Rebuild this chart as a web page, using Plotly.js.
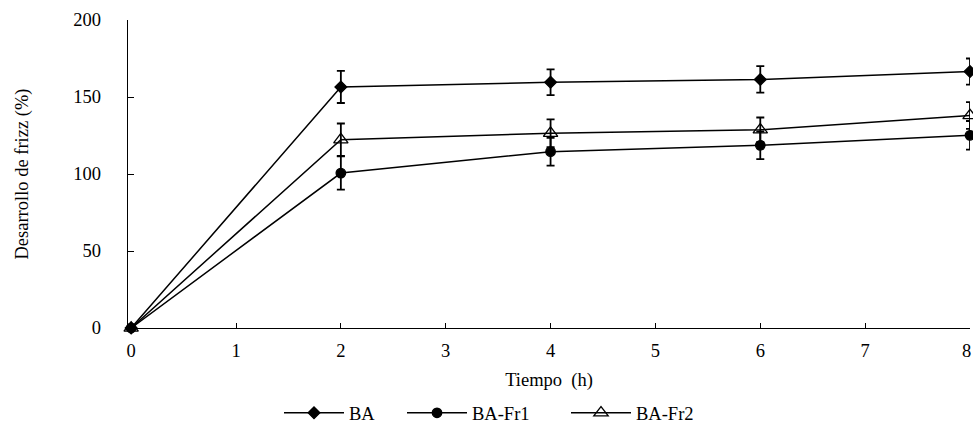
<!DOCTYPE html>
<html>
<head>
<meta charset="utf-8">
<script src="https://cdn.plot.ly/plotly-3.0.1.min.js"></script>
<style>html,body{margin:0;padding:0;background:#fff;}#chart{width:973px;height:435px;}</style>
</head>
<body>
<div id="chart"></div>
<script>
const tiempo = [0, 2, 4, 6, 8];
const seriesNames = ["BA", "BA-Fr1", "BA-Fr2"];
const ba = [0, 156.5, 159.6, 161.4, 166.5];
const baErr = [0, 10.4, 8.4, 8.6, 8.5];
const baFr1 = [0, 100.6, 114.5, 118.6, 125.1];
const baFr1Err = [0, 10.8, 9, 9, 9.3];
const baFr2 = [0, 122.3, 126.5, 128.7, 138];
const baFr2Err = [0, 10.5, 9, 8, 8.7];
const yTicks = [0, 50, 100, 150, 200];
const xTicks = [0, 1, 2, 3, 4, 5, 6, 7, 8];
const xTickText = ["0", "1", "2", "3", "4", "5", "6", "7", ""];
const lastXTick = xTicks[xTicks.length - 1];

const font = {family: "'Liberation Serif', 'Times New Roman', serif", size: 18.5, color: "#000"};
function trace(name, y, err, symbol, size, legendId) {
  return {
    x: tiempo, y: y, name: name, type: "scatter", mode: "lines+markers", cliponaxis: false,
    legend: legendId,
    line: {color: "#000", width: 1.5},
    marker: {symbol: symbol, size: size, color: "#000", line: {color: "#000", width: 1.3}},
    error_y: {type: "data", array: err, visible: true, color: "#000", thickness: 1.8, width: 4}
  };
}
const data = [
  trace(seriesNames[0], ba, baErr, "diamond", 9, "legend"),
  trace(seriesNames[1], baFr1, baFr1Err, "circle", 9.5, "legend2"),
  trace(seriesNames[2], baFr2, baFr2Err, "triangle-up-open", 12.5, "legend3")
];
function leg(px) {
  return {orientation: "h", xref: "container", yref: "container", x: px / 973, xanchor: "left",
          y: 0.05, yanchor: "middle", font: font, itemwidth: 60, bgcolor: "rgba(0,0,0,0)"};
}
const layout = {
  width: 973, height: 435,
  margin: {l: 128, r: 3, t: 20, b: 107, autoexpand: false},
  paper_bgcolor: "#fff", plot_bgcolor: "#fff",
  font: font,
  showlegend: true,
  legend: leg(279),
  legend2: leg(402),
  legend3: leg(566),
  xaxis: {range: [-0.03, 8], tickvals: xTicks, ticktext: xTickText,
          showline: true, linecolor: "#000", linewidth: 1.2, showgrid: false, zeroline: false,
          ticks: "inside", ticklen: 5, tickcolor: "#000", tickfont: font, ticklabelstandoff: 6,
          title: {text: "Tiempo\u00a0 (h)", font: font, standoff: 12}},
  yaxis: {range: [0, 200], tickvals: yTicks, ticktext: yTicks.map(String),
          showline: true, linecolor: "#000", linewidth: 1.2, showgrid: false, zeroline: false,
          ticks: "inside", ticklen: 6, tickcolor: "#000", tickfont: font, ticklabelstandoff: 22,
          title: {text: "Desarrollo de frizz (%)", font: font, standoff: 39}},
  annotations: [{x: lastXTick, xref: "x", y: 0, yref: "paper", text: String(lastXTick),
                 showarrow: false, xanchor: "center", yanchor: "middle", xshift: -4, yshift: -23,
                 font: font}]
};
Plotly.newPlot("chart", data, layout, {displayModeBar: false, staticPlot: true});
</script>
</body>
</html>
